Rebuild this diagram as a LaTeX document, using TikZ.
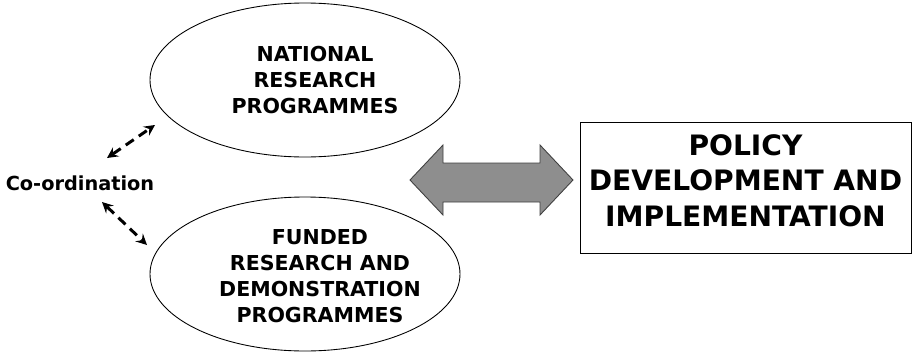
\documentclass[tikz,border=0pt]{standalone}
\usepackage{fontspec}
\setmainfont{DejaVu Sans}
\usepackage{tikz}
\usetikzlibrary{arrows}
\usetikzlibrary{shapes.geometric}

\tikzset{
  prog/.style={draw, ellipse, line width=0.5pt, minimum width=6.2cm, minimum height=3.08cm,
    inner sep=0pt},
  progtext/.style={align=center, font=\fontsize{11.7}{14.8}\selectfont\bfseries},
  policybox/.style={draw, rectangle, line width=0.5pt, minimum width=6.62cm, minimum height=2.62cm},
  policytext/.style={align=center, font=\fontsize{16}{20.2}\selectfont\bfseries},
  coord/.style={line width=1.7pt, dash pattern=on 5.5pt off 3.5pt, >=stealth, <->}
}

\begin{document}
\begin{tikzpicture}
    \useasboundingbox (0,0) rectangle (18.26,7.06);
    %% programmes
    \node [prog] (nat) at (6.1,5.46) {};
    \node [progtext] (nattext) at ([xshift=0.2cm]nat.center) {NATIONAL\\RESEARCH\\PROGRAMMES};
    \node [prog] (fund) at (6.1,1.58) {};
    \node [progtext] (fundtext) at ([xshift=0.3cm, yshift=-0.04cm]fund.center)
      {FUNDED\\RESEARCH AND\\DEMONSTRATION\\PROGRAMMES};
    %% policy
    \node [policybox] (pol) at (14.91,3.31) {};
    \node [policytext] (poltext) at ([yshift=0.14cm]pol.center) {POLICY\\DEVELOPMENT AND\\IMPLEMENTATION};
    %% co-ordination
    \node [font=\fontsize{11}{13}\selectfont\bfseries] (cord) at (1.6,3.40) {Co-ordination};
    \coordinate (c1) at (2.14,3.90);
    \coordinate (n1) at (3.10,4.56);
    \coordinate (c2) at (2.04,3.02);
    \coordinate (f1) at (2.94,2.16);
    \draw [coord] (c1) -- (n1);
    \draw [coord] (c2) -- (f1);
    %% double arrow
    \definecolor{arrowgray}{HTML}{8E8E8E}
    \filldraw [fill=arrowgray, line width=0.5pt, draw=black!75]
      (8.2,3.46) -- (8.86,4.16) -- (8.86,3.80) -- (10.8,3.80) -- (10.8,4.16)
      -- (11.46,3.46) -- (10.8,2.76) -- (10.8,3.02) -- (8.86,3.02) -- (8.86,2.76) -- cycle;
\end{tikzpicture}
\end{document}
